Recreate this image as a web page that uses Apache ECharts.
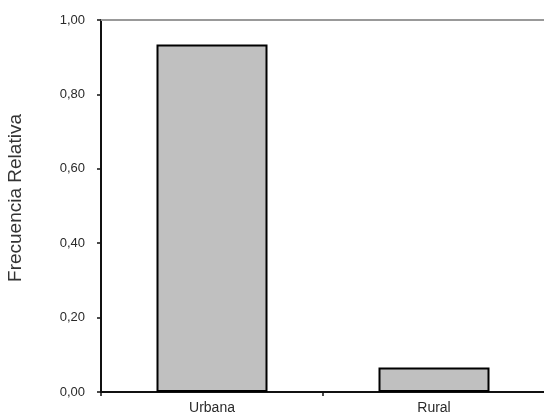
<!DOCTYPE html>
<html>
<head>
<meta charset="utf-8">
<script src="https://cdn.jsdelivr.net/npm/echarts@6/dist/echarts.min.js"></script>
<style>
html,body{margin:0;padding:0;background:#fff;}
#chart{width:544px;height:414px;}
</style>
</head>
<body>
<div id="chart"></div>
<script>
const categories = ["Urbana", "Rural"];
const values = [0.934, 0.066];
const yTicks = [0, 0.2, 0.4, 0.6, 0.8, 1.0];
const yTitle = "Frecuencia Relativa";

const chart = echarts.init(document.getElementById('chart'), null, {renderer: 'canvas'});
const font = '"Liberation Sans", Arial, sans-serif';
chart.setOption({
  animation: false,
  backgroundColor: '#ffffff',
  grid: {left: 101, right: -1, top: 20, bottom: 22, containLabel: false, outerBoundsMode: 'none'},
  xAxis: [{
    type: 'category',
    data: categories,
    position: 'bottom',
    boundaryGap: true,
    axisLine: {show: true, lineStyle: {color: '#111', width: 2}},
    axisTick: {show: true, alignWithLabel: false, length: 4, inside: false, lineStyle: {color: '#111', width: 1.5}},
    axisLabel: {color: '#2a2a2a', fontFamily: font, fontSize: 14, margin: 9}
  }, {
    type: 'category',
    data: categories,
    position: 'top',
    axisLine: {show: true, lineStyle: {color: '#999999', width: 2}},
    axisTick: {show: false},
    axisLabel: {show: false}
  }],
  yAxis: {
    type: 'value',
    min: yTicks[0],
    max: yTicks[yTicks.length - 1],
    interval: 0.2,
    name: yTitle,
    nameLocation: 'middle',
    nameRotate: 90,
    nameGap: 76,
    nameTextStyle: {color: '#333', fontFamily: font, fontSize: 19, padding: [0, 0, 0, 16]},
    axisLine: {show: true, lineStyle: {color: '#111', width: 2}},
    axisTick: {show: true, length: 4, lineStyle: {color: '#111', width: 1.5}},
    splitLine: {show: false},
    axisLabel: {
      color: '#2a2a2a', fontFamily: font, fontSize: 13, margin: 16,
      formatter: v => v.toFixed(2).replace('.', ',')
    }
  },
  series: [{
    type: 'bar',
    data: values,
    xAxisIndex: 0,
    barWidth: '50%',
    itemStyle: {color: '#c0c0c0', borderColor: '#000', borderWidth: 2}
  }]
});
</script>
</body>
</html>
